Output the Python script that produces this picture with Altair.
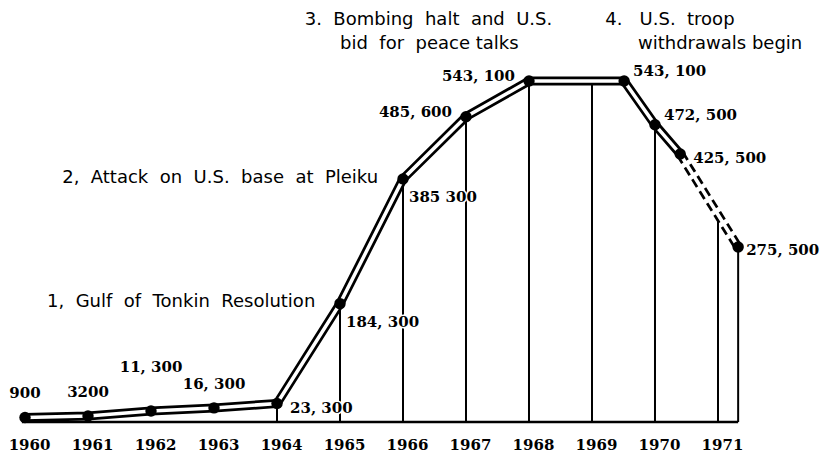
import altair as alt
import pandas as pd

# ---- data ----
years = [1960, 1961, 1962, 1963, 1964, 1965, 1966, 1967, 1968, 1969.51, 1970, 1970.40, 1971.32]
troops = [900, 3200, 11300, 16300, 23300, 184300, 385300, 485600, 543100, 543100, 472500, 425500, 275500]
labels = ["900", "3200", "11, 300", "16, 300", "23, 300", "184, 300", "385 300",
          "485, 600", "543, 100", "543, 100", "472, 500", "425, 500", "275, 500"]
label_side = ["above", "above", "high", "above", "right", "below", "below",
              "left", "left", "upper", "upper", "right", "far"]

rule_years = [1964, 1965, 1966, 1967, 1968, 1969, 1970, 1971, 1971.32]
rule_tops = [23300, 184300, 385300, 485600, 543100, 543100, 472500, 325000, 275500]

tick_years = list(range(1960, 1972))

S = " \u00a0"  # widened word gap, as in the typewritten original
notes = ["1," + S + "Gulf" + S + "of" + S + "Tonkin" + S + "Resolution",
         "2," + S + "Attack" + S + "on" + S + "U.S." + S + "base" + S + "at" + S + "Pleiku",
         "3." + S + "Bombing" + S + "halt" + S + "and" + S + "U.S.",
         "bid" + S + "for" + S + "peace talks",
         "4.\u00a0\u00a0 U.S." + S + "troop",
         "withdrawals begin"]
note_x = [1960.35, 1960.59, 1964.44, 1965.0, 1969.21, 1969.73]
note_y = [187000, 386800, 641000, 602000, 641000, 602000]

x_domain = [1959.73, 1972.651]
y_domain = [-6446, 660747]
baseline_years = [1959.95, 1971.32]

# ---- tables ----
pts = pd.DataFrame({"year": years, "troops": troops, "label": labels, "side": label_side})
rules = pd.DataFrame({"year": rule_years, "top": rule_tops,
                      "bottom": [y_domain[0]] * len(rule_years)})
base_df = pd.DataFrame({"year": baseline_years, "troops": [y_domain[0]] * 2})
ann = pd.DataFrame({"text": notes, "year": note_x, "troops": note_y})

xs = alt.Scale(domain=x_domain, nice=False, zero=False)
ys = alt.Scale(domain=y_domain, nice=False, zero=False)

X = alt.X("year:Q", scale=xs,
          axis=alt.Axis(values=tick_years, format="d", title=None, domain=False, ticks=False,
                        tickSize=0, grid=False, labelFont="DejaVu Serif", labelFontWeight="bold",
                        labelFontSize=15, labelColor="black", labelPadding=22,
                        labelBaseline="middle", labelFlush=False, labelOverlap=False,
                        labelOffset=4))
Xn = alt.X("year:Q", scale=xs)
Y = alt.Y("troops:Q", scale=ys, axis=None)

base = alt.Chart(pts)

rule_layer = alt.Chart(rules).mark_rule(color="black", strokeWidth=2).encode(
    x=Xn, y=alt.Y("top:Q", scale=ys, axis=None), y2="bottom:Q")

baseline = alt.Chart(base_df).mark_line(color="black", strokeWidth=2.5).encode(x=Xn, y=Y)

line_black = base.mark_line(color="black", strokeWidth=9).encode(x=X, y=Y).transform_filter(
    alt.datum.year <= 1970.41)
line_dash = base.mark_line(color="black", strokeWidth=9, strokeDash=[9, 5]).encode(
    x=Xn, y=Y).transform_filter(alt.datum.year >= 1970.39)
line_white = base.mark_line(color="white", strokeWidth=3.5).encode(x=Xn, y=Y)
points = base.mark_circle(color="black", opacity=1, size=130).encode(x=Xn, y=Y)

offsets = {
    "above": ("center", 0, -24),
    "high": ("center", 0, -44),
    "right": ("left", 13, 4),
    "far": ("left", 8, 3),
    "below": ("left", 6, 18),
    "left": ("right", -14, -5),
    "upper": ("left", 9, -10),
}

text_layers = []
halo_layers = []
for side, (al, dx, dy) in offsets.items():
    common = dict(align=al, dx=dx, dy=dy, baseline="middle", font="DejaVu Serif",
                  fontWeight="bold", fontSize=15)
    halo_layers.append(base.mark_text(fill="white", stroke="white", strokeWidth=3, **common)
                       .encode(x=Xn, y=Y, text="label:N")
                       .transform_filter(alt.datum.side == side))
    text_layers.append(base.mark_text(color="black", **common)
                       .encode(x=Xn, y=Y, text="label:N")
                       .transform_filter(alt.datum.side == side))

notes_layer = alt.Chart(ann).mark_text(align="left", baseline="middle", font="DejaVu Sans",
                                       fontSize=18, color="black").encode(
    x=Xn, y=Y, text="text:N")

chart = alt.layer(rule_layer, baseline, line_black, line_dash, line_white, points,
                  *halo_layers, *text_layers, notes_layer).properties(
    width=814, height=414, autosize="none",
    padding={"left": 0, "top": 0, "right": 0, "bottom": 44},
    background="white",
).configure_view(stroke=None)

chart.save("out.html", embed_options={"renderer": "svg", "actions": False})
